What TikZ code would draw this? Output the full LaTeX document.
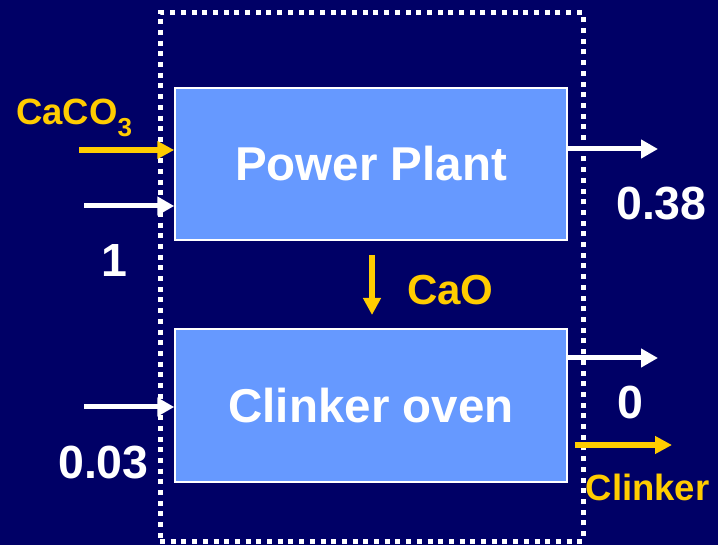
\documentclass[tikz,border=0pt]{standalone}
\usepackage{fontspec}
\setmainfont{Liberation Sans}
\usetikzlibrary{arrows.meta}
\definecolor{bg}{HTML}{000066}
\definecolor{boxblue}{HTML}{6699FF}
\definecolor{gold}{HTML}{FFCC00}
\begin{document}
\begin{tikzpicture}[x=1pt,y=-1pt,
  procbox/.style={draw=white, line width=1.5pt, fill=boxblue, text=white,
    font=\bfseries\fontsize{47.5}{56}\selectfont, minimum width=392pt, inner sep=0pt},
  sysbox/.style={draw=white, line width=5pt, dash pattern=on 5pt off 5.7pt,
    minimum width=423pt, minimum height=528pt, inner sep=0pt},
  warrow/.style={draw=white, line width=5pt, -{Triangle[length=17pt,width=18pt]}},
  yarrow/.style={draw=gold, line width=6pt, -{Triangle[length=17pt,width=17pt]}},
  wlbl/.style={text=white, inner sep=0pt, font=\bfseries\fontsize{46.5}{55}\selectfont},
  ylbl/.style={text=gold, inner sep=0pt, font=\bfseries\fontsize{#1}{#1}\selectfont},
]
\fill[bg] (0,0) rectangle (718,545);
\useasboundingbox (0,0) rectangle (718,545);

\node[sysbox] (sys) at (371.5,277) {};
\node[procbox, minimum height=152pt] (pp) at (371,164) {Power Plant};
\node[procbox, minimum height=153pt] (co) at (371,405.5) {Clinker oven};

% arrows into / out of the power plant
\coordinate (caco3in) at (79,150);
\draw[yarrow] (caco3in) -- (caco3in -| pp.west);
\coordinate (fuel1) at (84,206);
\draw[warrow] (fuel1) -- (fuel1 -| pp.west);
\coordinate (out1) at (658,149);
\draw[warrow] (out1 -| pp.east) -- (out1);

% CaO transfer
\coordinate (caoa) at (372,255);
\coordinate (caob) at (372,315);
\draw[yarrow] (caoa) -- (caob);

% clinker oven
\coordinate (fuel2) at (84,407);
\draw[warrow] (fuel2) -- (fuel2 -| co.west);
\coordinate (out2) at (658,358);
\draw[warrow] (out2 -| co.east) -- (out2);
\coordinate (clka) at (575,445);
\coordinate (clkb) at (672,445);
\draw[yarrow] (clka) -- (clkb);

% labels
\node[ylbl=36.5, anchor=base west] (tcaco3) at (16,125) {CaCO\raisebox{-12pt}{\fontsize{26}{28}\selectfont 3}};
\node[wlbl, anchor=base] (t1) at (114.5,277) {1};
\node[wlbl, anchor=base west] (t038) at (616,220) {0.38};
\node[ylbl=42, anchor=base west] (tcao) at (407,305) {CaO};
\node[wlbl, anchor=base] (t0) at (630,418) {0};
\node[wlbl, anchor=base west] (t003) at (58,478) {0.03};
\node[ylbl=36.5, anchor=base west] (tclk) at (585.5,500) {Clinker};
\end{tikzpicture}
\end{document}
